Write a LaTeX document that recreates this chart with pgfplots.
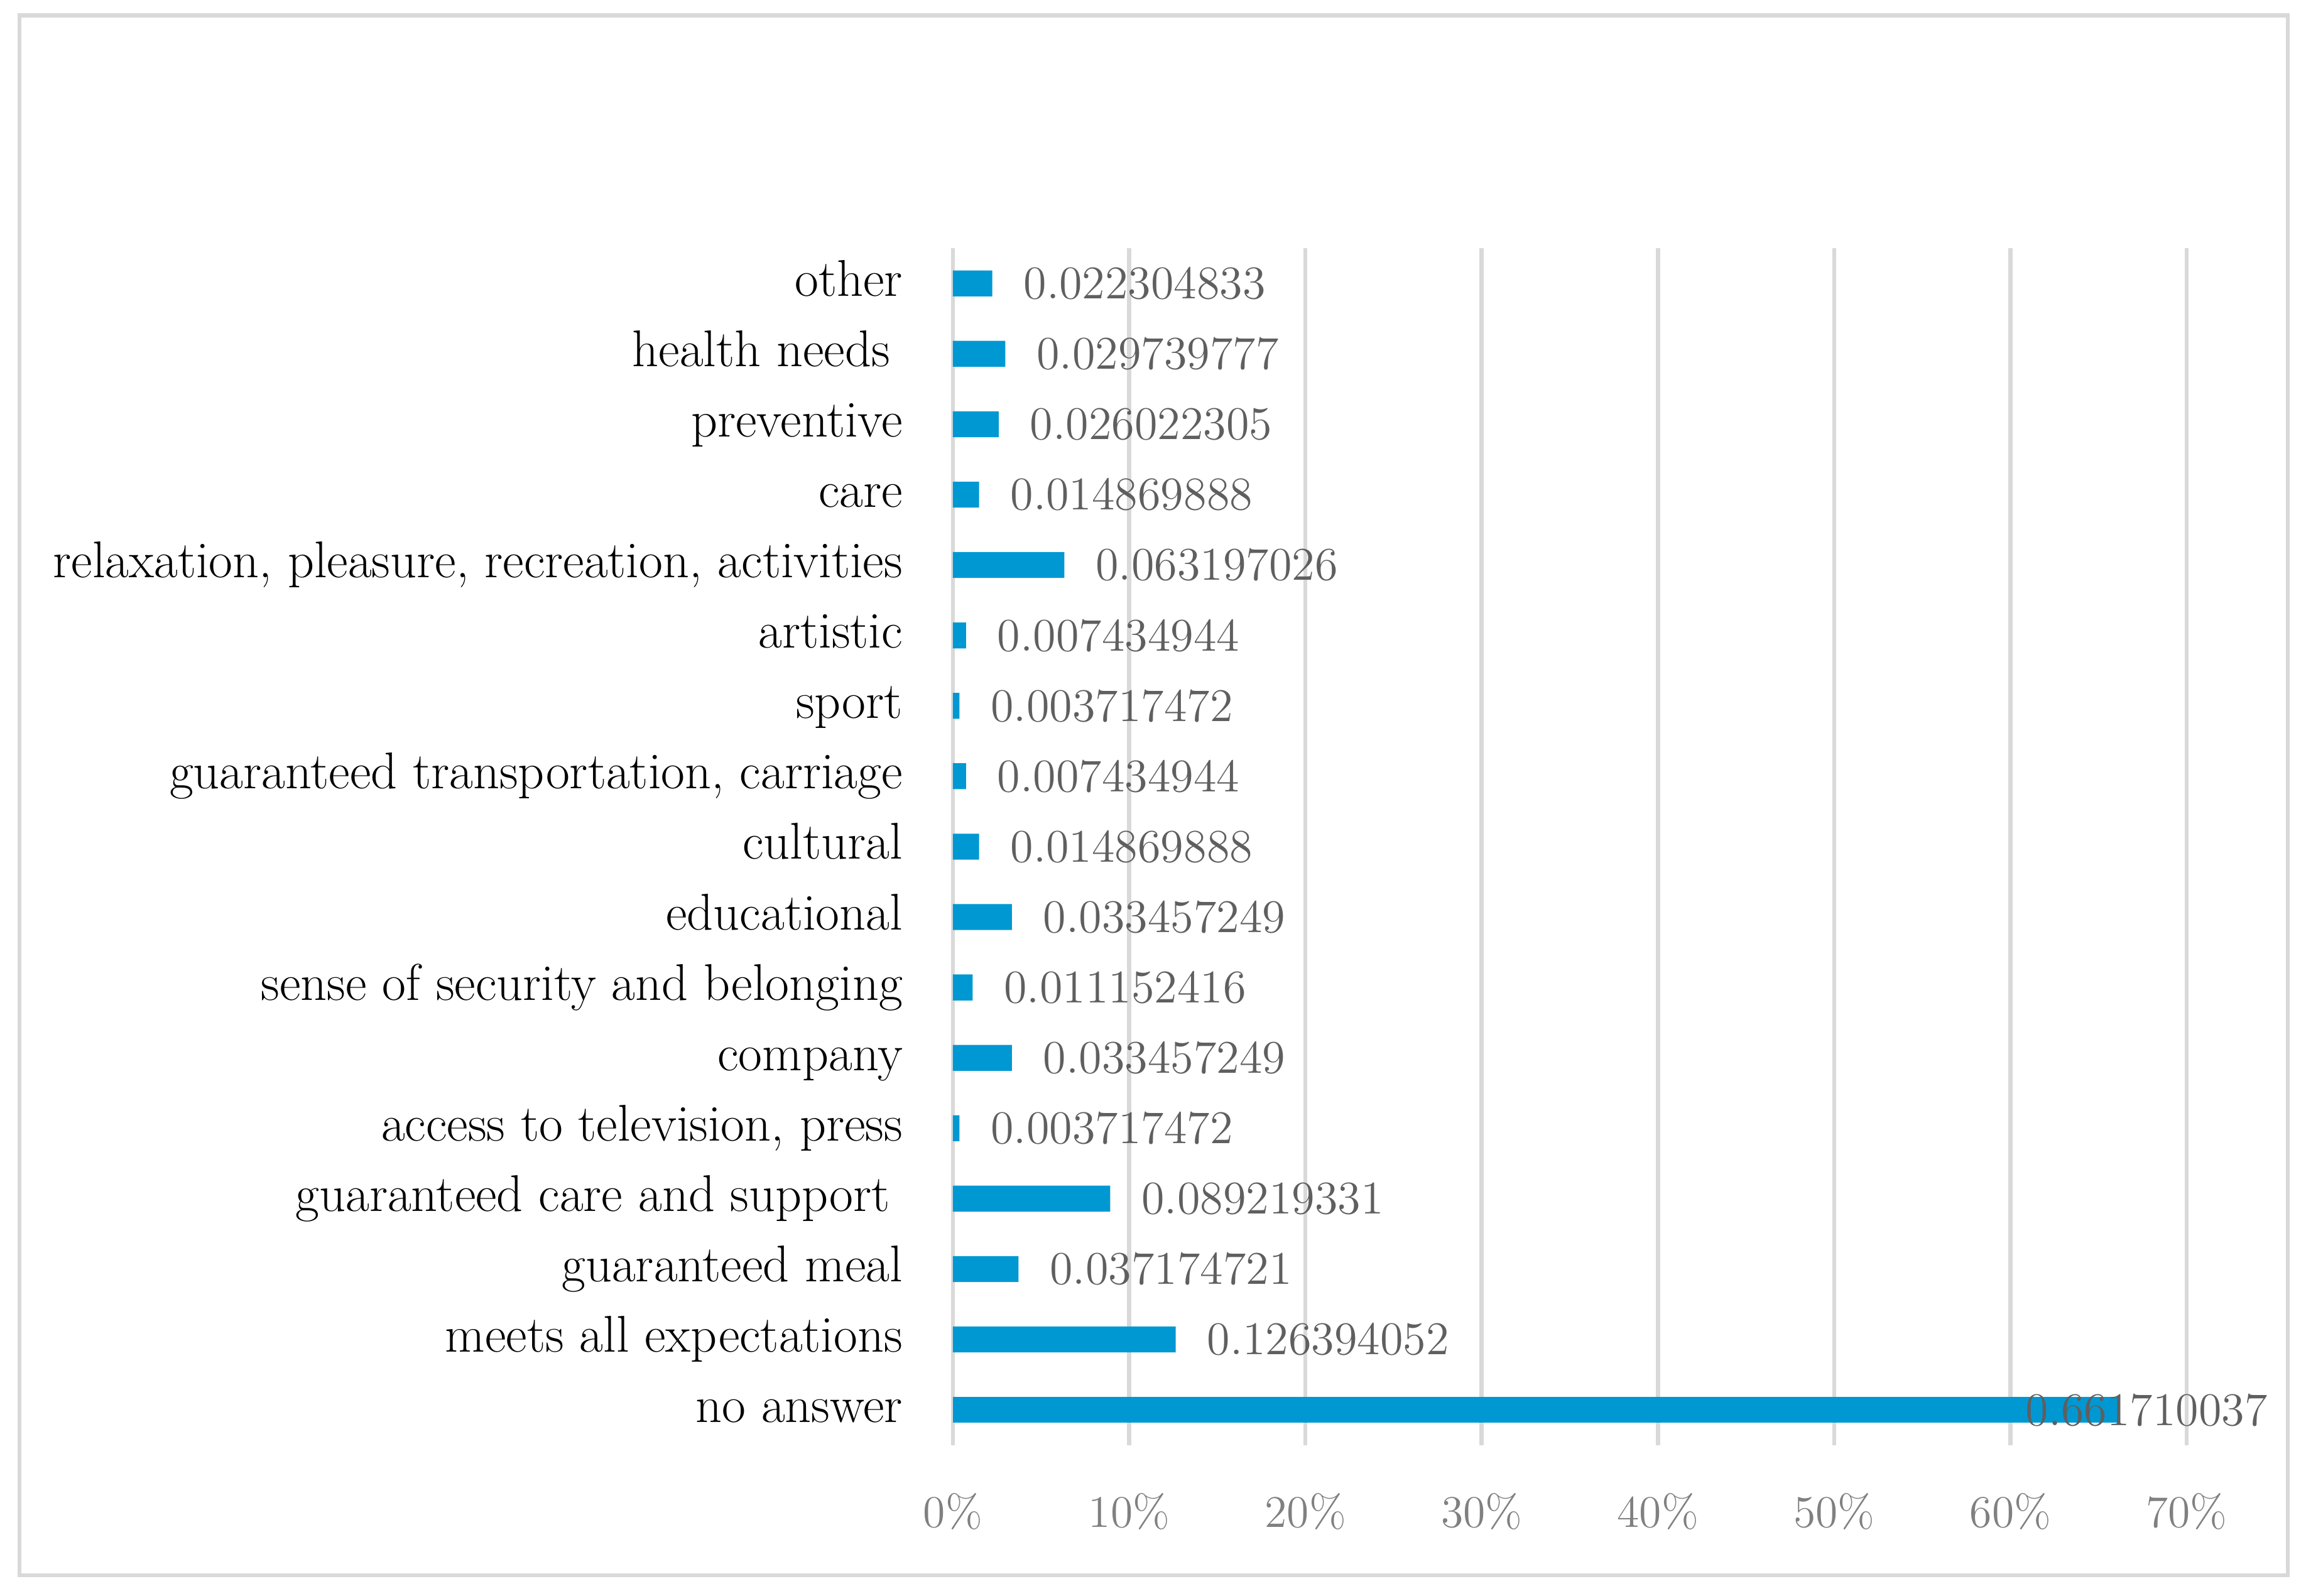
\RequirePackage{fix-cm}
\documentclass[border=0pt]{standalone}
\usepackage{pgfplots}
\pgfplotsset{compat=1.18}
\definecolor{barblue}{HTML}{0098D3}
\definecolor{gridgray}{HTML}{D9D9D9}
\definecolor{ticktext}{HTML}{808080}
\definecolor{labeltext}{HTML}{5F5F5F}

\pgfplotstableread{
i v lab
1 0.126394052 0.126394052
2 0.037174721 0.037174721
3 0.089219331 0.089219331
4 0.003717472 0.003717472
5 0.033457249 0.033457249
6 0.011152416 0.011152416
7 0.033457249 0.033457249
8 0.014869888 0.014869888
9 0.007434944 0.007434944
10 0.003717472 0.003717472
11 0.007434944 0.007434944
12 0.063197026 0.063197026
13 0.014869888 0.014869888
14 0.026022305 0.026022305
15 0.029739777 0.029739777
16 0.022304833 0.022304833
}\smallvals

\pgfplotstableread{
i v lab
0 0.661710037 0.661710037
}\bigval

\begin{document}
\begin{tikzpicture}
\path[use as bounding box] (-303.4pt,-48.06pt) rectangle (430.8pt,460.14pt);
\draw[gridgray, line width=1.3pt] (-297.24pt,-41.46pt) rectangle (425pt,455.28pt);
\begin{axis}[
  at={(0pt,0pt)}, anchor=south west,
  scale only axis, width=392.8pt, height=381.1pt,
  xmin=0, xmax=0.7, ymin=-0.5, ymax=16.5,
  xbar, bar width=8.26pt, bar shift=0pt,
  axis line style={draw=none},
  xmajorgrids, major grid style={gridgray, line width=1.3pt},
  xtick={0,0.1,0.2,0.3,0.4,0.5,0.6,0.7},
  xticklabels={0\%,10\%,20\%,30\%,40\%,50\%,60\%,70\%},
  ytick={0,1,2,3,4,5,6,7,8,9,10,11,12,13,14,15,16},
  yticklabels={no answer, meets all expectations, guaranteed meal, {guaranteed care and support\hspace*{4pt}}, {access to television, press}, company, sense of security and belonging, educational, cultural, {guaranteed transportation, carriage}, sport, artistic, {relaxation, pleasure, recreation, activities}, care, preventive, {health needs\hspace*{4pt}}, other},
  major tick length=0pt,
  tick style={draw=none},
  xticklabel style={font=\fontsize{14.4}{17}\selectfont, text=ticktext, anchor=center, inner sep=0pt, yshift=-21.2pt},
  yticklabel style={font=\fontsize{16.46}{19}\selectfont, text=black, anchor=east, inner sep=0pt, xshift=-15.8pt, yshift=-1.7pt, text height=0.68em, text depth=0.22em},
  clip=false,
  point meta=explicit symbolic,
  nodes near coords=\pgfplotspointmeta,
]
\addplot[fill=barblue, draw=none,
  nodes near coords style={font=\fontsize{14.9}{17}\selectfont, text=labeltext, anchor=west, inner sep=0pt, xshift=9.8pt}]
  table[x=v, y=i, meta=lab] {\smallvals};
\addplot[fill=barblue, draw=none,
  nodes near coords style={font=\fontsize{14.9}{17}\selectfont, text=labeltext, anchor=west, inner sep=0pt, xshift=-30pt}]
  table[x=v, y=i, meta=lab] {\bigval};
\end{axis}
\end{tikzpicture}
\end{document}
